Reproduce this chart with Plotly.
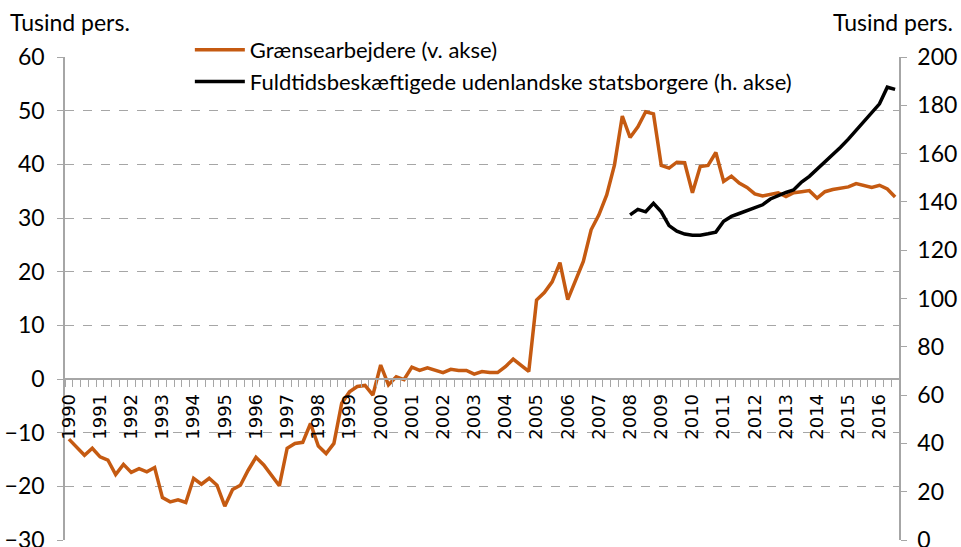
import plotly.graph_objects as go

# Quarterly data, 1990K1 - 2016K3
years = list(range(1990, 2017))
quarters_per_year = 4

graensearbejdere = [
    -11.2, -12.7, -14.2, -12.9, -14.5, -15.1, -17.8, -15.9, -17.4, -16.7,
    -17.3, -16.5, -22.1, -22.9, -22.5, -23.0, -18.5, -19.6, -18.5, -19.8,
    -23.7, -20.6, -19.8, -17.0, -14.6, -16.0, -17.9, -19.9, -12.9, -12.0,
    -11.8, -8.3, -12.5, -13.9, -12.0, -4.5, -2.4, -1.4, -1.2, -3.0,
    2.6, -1.1, 0.4, -0.1, 2.2, 1.6, 2.1, 1.7, 1.2, 1.8,
    1.6, 1.6, 0.9, 1.4, 1.2, 1.2, 2.3, 3.7, 2.5, 1.4,
    14.7, 16.1, 18.1, 21.7, 14.8, 18.4, 21.9, 27.8, 30.6, 34.3,
    39.9, 49.0, 45.0, 47.0, 49.8, 49.4, 39.8, 39.3, 40.4, 40.3,
    34.7, 39.6, 39.8, 42.2, 36.8, 37.8, 36.5, 35.7, 34.5, 34.1,
    34.4, 34.7, 34.0, 34.7, 34.9, 35.1, 33.7, 34.9, 35.3, 35.6,
    35.8, 36.4, 36.0, 35.7, 36.1, 35.4, 33.9,
]

udenlandske_start = 72  # 2008K1
udenlandske = [
    134.6, 136.9, 135.9, 139.4, 135.9, 130.2, 127.9, 126.7, 126.2, 126.2,
    126.8, 127.5, 132.0, 134.0, 135.2, 136.3, 137.6, 138.8, 141.2, 142.6,
    143.9, 145.0, 148.2, 150.6, 153.6, 156.5, 159.4, 162.6, 166.0, 169.7,
    173.5, 177.3, 180.6, 187.5, 186.6,
]

name_left = "Grænsearbejdere (v. akse)"
name_right = "Fuldtidsbeskæftigede udenlandske statsborgere (h. akse)"
unit_label = "Tusind pers."

n = len(graensearbejdere)
x_idx = list(range(n))
x_right = list(range(udenlandske_start, udenlandske_start + len(udenlandske)))

ORANGE = "#C55A11"
GRID = "#A6A6A6"
FONT = "Lato"

fig = go.Figure()
fig.add_trace(go.Scatter(
    x=x_idx, y=graensearbejdere, mode="lines", name=name_left,
    line=dict(color=ORANGE, width=3.5), legendgroup="a",
))
fig.add_trace(go.Scatter(
    x=x_right, y=udenlandske, mode="lines", name=name_right,
    line=dict(color="black", width=3.5), yaxis="y2", legendgroup="b",
))

tickvals = [i * quarters_per_year for i in range(len(years))]
ticktext = [str(y) for y in years]

fig.update_layout(
    width=961, height=547,
    margin=dict(l=65, r=62, t=57, b=7, autoexpand=False),
    paper_bgcolor="white", plot_bgcolor="white",
    font=dict(family=FONT, size=23, color="black"),
    showlegend=True,
    legend=dict(
        x=(190 - 65) / 835, y=(540 - 29) / 483, xanchor="left", yanchor="top",
        font=dict(family=FONT, size=22), bgcolor="rgba(0,0,0,0)",
        tracegroupgap=0, itemwidth=50, traceorder="grouped",
    ),
    xaxis=dict(
        range=[-0.5, n - 0.5], automargin=False,
        anchor="free", position=1 / 3,
        tickmode="array", tickvals=tickvals, ticktext=ticktext,
        tickangle=-90, ticks="", ticklabelstandoff=7,
        tickfont=dict(family="DejaVu Sans", size=18, color="black"),
        showgrid=False, zeroline=False,
        showline=True, linecolor=GRID, linewidth=1.5,
        minor=dict(
            tickmode="array", tickvals=[i - 0.5 for i in range(n + 1)],
            ticks="outside", ticklen=7, tickcolor=GRID, tickwidth=1, showgrid=False,
        ),
    ),
    yaxis=dict(
        range=[-30, 60], dtick=10, tick0=0, automargin=False,
        showgrid=True, gridcolor=GRID, griddash="dash", gridwidth=1,
        zeroline=False, showline=True, linecolor=GRID, linewidth=1.5,
        ticks="outside", ticklen=6, tickcolor=GRID, ticklabelstandoff=8,
        ticklabeloverflow="allow",
        tickfont=dict(family=FONT, size=23),
    ),
    yaxis2=dict(
        range=[0, 200], dtick=20, overlaying="y", side="right", automargin=False,
        showgrid=False, zeroline=False, showline=True, linecolor=GRID, linewidth=1.5,
        ticks="outside", ticklen=6, tickcolor=GRID, ticklabelstandoff=6,
        ticklabeloverflow="allow",
        tickfont=dict(family=FONT, size=23),
    ),
    annotations=[
        dict(text=unit_label, xref="paper", yref="paper",
             x=(8 - 65) / 835, y=(540 - 22) / 483, xanchor="left", yanchor="middle",
             showarrow=False, font=dict(family=FONT, size=23)),
        dict(text=unit_label, xref="paper", yref="paper",
             x=(956 - 65) / 835, y=(540 - 22) / 483, xanchor="right", yanchor="middle",
             showarrow=False, font=dict(family=FONT, size=23)),
    ],
)

fig.write_html(
    "out.html",
    config={"displayModeBar": False},
    post_script="document.body.style.margin='0';",
)
